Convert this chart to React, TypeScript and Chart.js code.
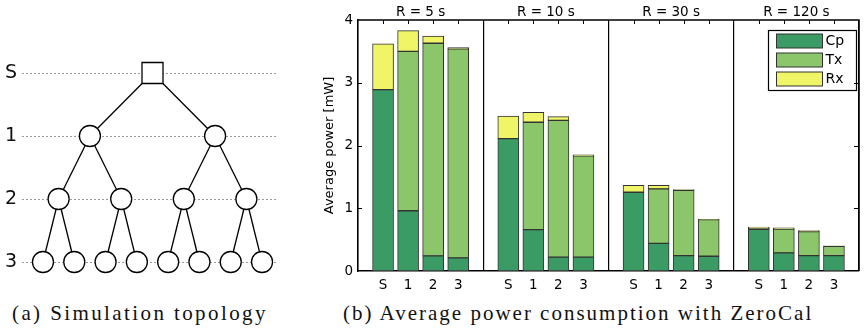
import React, { useEffect, useRef } from 'react';
import { Chart, registerables } from 'chart.js';
Chart.register(...registerables);

// ---------- (b) data ----------
const groupTitles = ['R = 5 s', 'R = 10 s', 'R = 30 s', 'R = 120 s'];
const nodeLabels = ['S', '1', '2', '3'];
const seriesNames = ['Cp', 'Tx', 'Rx'];
const seriesColors = ['#3a9b64', '#8cc66a', '#eff566'];
const cpValues = [2.89, 0.96, 0.24, 0.21, 2.11, 0.66, 0.22, 0.22, 1.255, 0.44, 0.245, 0.235, 0.665, 0.29, 0.245, 0.245];
const txValues = [0, 2.54, 3.39, 3.33, 0, 1.71, 2.18, 1.615, 0, 0.87, 1.04, 0.585, 0.01, 0.38, 0.383, 0.149];
const rxValues = [0.73, 0.33, 0.115, 0.02, 0.36, 0.16, 0.06, 0.015, 0.11, 0.057, 0.013, 0.005, 0.025, 0.016, 0.016, 0.006];
const yTickValues = [0, 1, 2, 3, 4];
const yTitle = 'Average power [mW]';

// ---------- (a) data ----------
const levelLabels = ['S', '1', '2', '3'];
const topoLevel = [0, 1, 1, 2, 2, 2, 2, 3, 3, 3, 3, 3, 3, 3, 3];
const topoX = [3.5, 1.5, 5.5, 0.5, 2.5, 4.5, 6.5, 0, 1, 2, 3, 4, 5, 6, 7];
const topoParent = [-1, 0, 0, 1, 1, 2, 2, 3, 3, 4, 4, 5, 5, 6, 6];

const captionA = '(a) Simulation topology';
const captionB = '(b) Average power consumption with ZeroCal';

const SANS = '"DejaVu Sans"';
const slot = nodeLabels.length + 1;
const barX = (i: number) => Math.floor(i / nodeLabels.length) * slot + (i % nodeLabels.length) + 1;

const zeroPad = (s: any) => {
  s.paddingTop = 0;
  s.paddingBottom = 0;
  s.paddingLeft = 0;
  s.paddingRight = 0;
};

function TopologyChart() {
  const ref = useRef<HTMLCanvasElement>(null);
  useEffect(() => {
    if (!ref.current) return;
    const edgeSets: any[] = [];
    topoParent.forEach((p, i) => {
      if (p < 0) return;
      edgeSets.push({
        type: 'scatter',
        showLine: true,
        data: [{ x: topoX[p], y: topoLevel[p] }, { x: topoX[i], y: topoLevel[i] }],
        borderColor: '#000',
        borderWidth: 1.3,
        pointRadius: 0,
        order: 2,
      });
    });
    const chart = new Chart(ref.current, {
      type: 'scatter',
      data: {
        datasets: [
          {
            data: topoX.map((x, i) => ({ x, y: topoLevel[i] })).filter((_, i) => topoLevel[i] > 0),
            pointStyle: 'circle',
            pointRadius: 10.5,
            pointBackgroundColor: '#fff',
            pointBorderColor: '#000',
            pointBorderWidth: 1.3,
            order: 0,
          },
          {
            data: topoX.map((x, i) => ({ x, y: topoLevel[i] })).filter((_, i) => topoLevel[i] === 0),
            pointStyle: 'rect',
            pointRadius: 14.85,
            pointBackgroundColor: '#fff',
            pointBorderColor: '#000',
            pointBorderWidth: 1.3,
            order: 0,
          },
          ...edgeSets,
        ],
      },
      options: {
        animation: false,
        responsive: false,
        events: [],
        layout: { autoPadding: false, padding: { left: 0, right: 12, top: 41.5, bottom: 6.5 } },
        plugins: { legend: { display: false }, tooltip: { enabled: false } },
        scales: {
          x: { type: 'linear', min: -0.67, max: 7.51, display: false },
          y: {
            type: 'linear',
            min: -0.5,
            max: 3.5,
            reverse: true,
            z: 1,
            afterBuildTicks: (s: any) => {
              s.ticks = levelLabels.map((_, i) => ({ value: i }));
            },
            afterFit: (s: any) => {
              s.width = 22;
              zeroPad(s);
            },
            ticks: {
              padding: 5,
              color: '#111',
              font: { family: SANS, size: 19 },
              callback: (v: any) => levelLabels[v] ?? '',
            },
            grid: { color: '#9a9a9a', lineWidth: 1, drawTicks: false },
            border: { display: false, dash: [2, 2] },
          },
        },
      },
    });
    return () => chart.destroy();
  }, []);
  return <canvas ref={ref} width={290} height={300} style={{ position: 'absolute', left: 0, top: 0, width: 290, height: 300 }} />;
}

const framePlugin = {
  id: 'frameAndLegend',
  afterDatasetsDraw(chart: any) {
    const { ctx, chartArea: ca, scales } = chart;
    const x = scales.x;
    const y = scales.y;
    ctx.save();
    // frame top/right
    ctx.strokeStyle = '#000';
    ctx.lineWidth = 1.5;
    ctx.beginPath();
    ctx.moveTo(ca.left, ca.top);
    ctx.lineTo(ca.right, ca.top);
    ctx.lineTo(ca.right, ca.bottom);
    ctx.stroke();

    // group titles
    ctx.fillStyle = '#000';
    ctx.font = `13.5px ${SANS}`;
    ctx.textAlign = 'center';
    ctx.textBaseline = 'middle';
    groupTitles.forEach((t, g) => {
      ctx.fillText(t, x.getPixelForValue(g * slot + slot / 2), ca.top - 8);
    });

    // legend box
    const lw = 88, lh = 60;
    const lx = Math.round(ca.right - 91) + 0.5;
    const ly = Math.round(ca.top + 10) + 0.5;
    ctx.fillStyle = '#fff';
    ctx.fillRect(lx, ly, lw, lh);
    ctx.lineWidth = 1.2;
    ctx.strokeStyle = '#000';
    ctx.strokeRect(lx, ly, lw, lh);
    ctx.font = `14px ${SANS}`;
    seriesNames.forEach((n, s) => {
      const cy = ly + 10.5 + s * 19;
      ctx.fillStyle = seriesColors[s];
      ctx.fillRect(lx + 8, cy - 7, 46, 14);
      ctx.lineWidth = 1;
      ctx.strokeStyle = '#333';
      ctx.strokeRect(lx + 8, cy - 7, 46, 14);
      ctx.fillStyle = '#000';
      ctx.textAlign = 'left';
      ctx.textBaseline = 'middle';
      ctx.fillText(n, lx + 57, cy + 0.5);
    });

    // inner ticks
    ctx.strokeStyle = '#000';
    ctx.lineWidth = 1;
    ctx.beginPath();
    cpValues.forEach((_, i) => {
      const px = Math.round(x.getPixelForValue(barX(i))) + 0.5;
      ctx.moveTo(px, ca.top);
      ctx.lineTo(px, ca.top + 4);
    });
    yTickValues.slice(1, -1).forEach((v) => {
      const py = Math.round(y.getPixelForValue(v)) + 0.5;
      ctx.moveTo(ca.left, py);
      ctx.lineTo(ca.left + 4, py);
      ctx.moveTo(ca.right, py);
      ctx.lineTo(ca.right - 5, py);
    });
    ctx.stroke();
    ctx.restore();
  },
};

function PowerChart() {
  const ref = useRef<HTMLCanvasElement>(null);
  useEffect(() => {
    if (!ref.current) return;
    const series = [cpValues, txValues, rxValues];
    const chart = new Chart(ref.current, {
      type: 'bar',
      data: {
        datasets: series.map((vals, s) => ({
          label: seriesNames[s],
          data: vals.map((v, i) => ({ x: barX(i), y: v })),
          backgroundColor: seriesColors[s],
          borderColor: '#333',
          borderWidth: 1,
          borderSkipped: false,
          barThickness: 21,
        })),
      },
      options: {
        animation: false,
        responsive: false,
        events: [],
        layout: { padding: { left: 0, right: 7, top: 20, bottom: 0 } },
        plugins: { legend: { display: false }, tooltip: { enabled: false } },
        scales: {
          x: {
            type: 'linear',
            min: 0,
            max: groupTitles.length * slot,
            stacked: true,
            offset: false,
            afterBuildTicks: (s: any) => {
              s.ticks = Array.from({ length: groupTitles.length * slot + 1 }, (_, v) => ({ value: v }));
            },
            afterFit: (s: any) => {
              s.height = 29;
              zeroPad(s);
            },
            ticks: {
              autoSkip: false,
              maxRotation: 0,
              padding: 6,
              color: '#000',
              font: { family: SANS, size: 13.5 },
              callback: (v: any) => (v % slot === 0 ? '' : nodeLabels[(v % slot) - 1]),
            },
            grid: {
              offset: false,
              color: (c: any) => (c.tick && c.tick.value % slot === 0 ? '#000' : 'rgba(0,0,0,0)'),
              lineWidth: 1.2,
              drawTicks: false,
            },
            border: { display: true, color: '#000', width: 1.5 },
          },
          y: {
            type: 'linear',
            min: 0,
            max: 4,
            stacked: true,
            afterBuildTicks: (s: any) => {
              s.ticks = yTickValues.map((v) => ({ value: v }));
            },
            afterFit: (s: any) => {
              s.width = 58;
              zeroPad(s);
            },
            ticks: { padding: 5, color: '#000', font: { family: SANS, size: 13.5 } },
            grid: { display: false, drawTicks: false },
            border: { display: true, color: '#000', width: 1.5 },
            title: {
              display: true,
              text: yTitle,
              color: '#000',
              font: { family: SANS, size: 13 },
              padding: { top: 22, bottom: 0 },
            },
          },
        },
      },
      plugins: [framePlugin],
    });
    return () => chart.destroy();
  }, []);
  return <canvas ref={ref} width={566} height={300} style={{ position: 'absolute', left: 300, top: 0, width: 566, height: 300 }} />;
}

const captionStyle: React.CSSProperties = {
  position: 'absolute',
  top: 301,
  fontFamily: '"Liberation Serif", serif',
  fontSize: 21,
  lineHeight: '24px',
  whiteSpace: 'nowrap',
  color: '#111',
};

export default function App() {
  return (
    <div style={{ position: 'absolute', left: 0, top: 0, width: 866, height: 332, background: '#fff', overflow: 'hidden' }}>
      <TopologyChart />
      <PowerChart />
      <div style={{ ...captionStyle, left: 12, letterSpacing: 2.4 }}>{captionA}</div>
      <div style={{ ...captionStyle, left: 343, letterSpacing: 2.0 }}>{captionB}</div>
    </div>
  );
}
